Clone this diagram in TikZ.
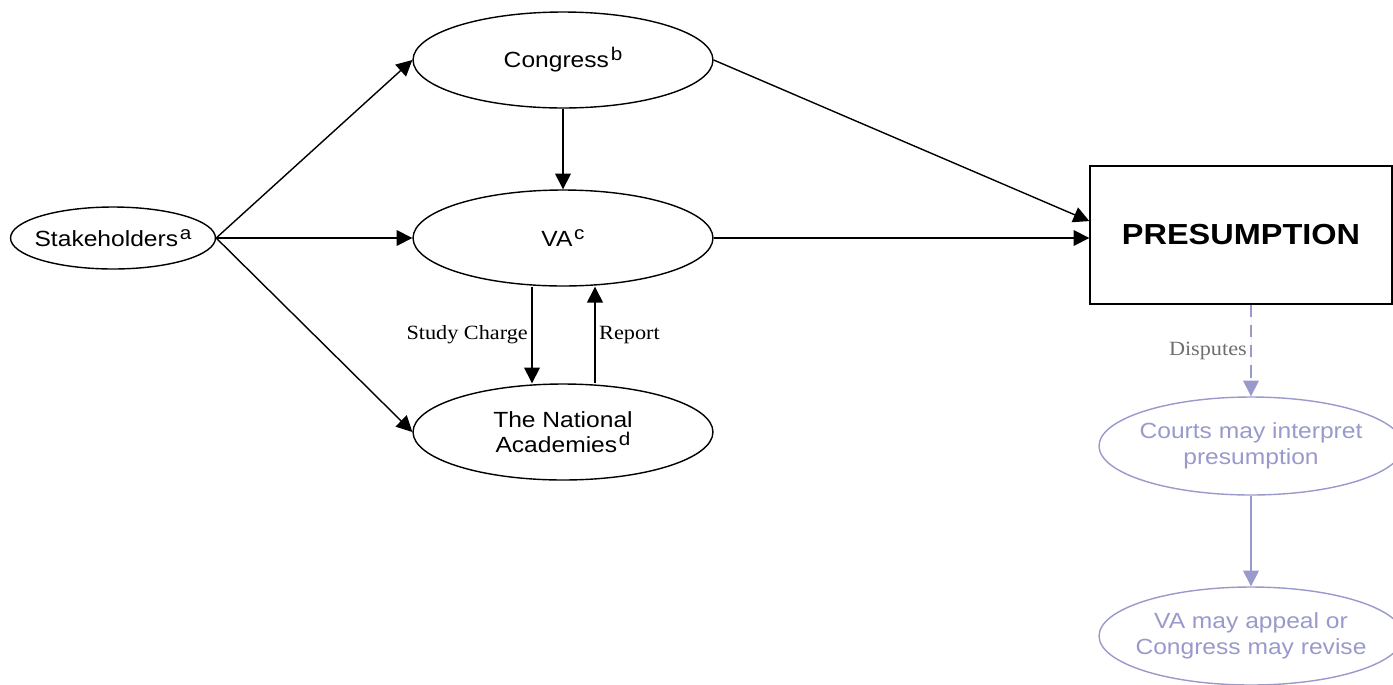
\documentclass[tikz,border=0pt]{standalone}
\usepackage{fontspec}
\setmainfont{Liberation Serif}[FakeStretch=1.1]
\setsansfont{Liberation Sans}[FakeStretch=1.12]
\usepackage{tikz}
\usetikzlibrary{arrows.meta,positioning,shapes.geometric,calc}
\definecolor{disputepurple}{RGB}{153,153,204}
\definecolor{labelgray}{RGB}{110,110,110}
\newcommand{\notemark}[1]{\kern1pt\raisebox{0.6ex}{\fontsize{10.5}{12}\selectfont #1}}

\begin{document}
\begin{tikzpicture}[
    x=0.02cm, y=-0.02cm,
    actor/.style={draw, ellipse, inner xsep=-1cm, inner ysep=-0.3cm, minimum width=6cm, minimum height=1.92cm, align=center, font=\sffamily\fontsize{12.5}{14.5}\selectfont, line width=0.8pt},
    outcome/.style={actor, draw=disputepurple, text=disputepurple, minimum width=6.08cm, minimum height=1.96cm},
    flow/.style={-{Triangle[length=9pt,width=9pt]}, line width=0.8pt},
    lbl/.style={font=\fontsize{11.5}{13}\selectfont, inner sep=2pt},
]
\useasboundingbox (0,0) rectangle (1393,684);

\node[actor, minimum width=4.1cm, minimum height=1.24cm] (stake) at (113,238) {Stakeholders\notemark{a}};
\node[actor] (cong) at (563,60) {Congress\notemark{b}};
\node[actor] (va) at (563,238) {VA\notemark{c}};
\node[actor] (nas) at (563,432) {The National\\Academies\notemark{d}};

\node[draw, line width=0.8pt, minimum width=6.04cm, minimum height=2.76cm, font=\sffamily\bfseries\fontsize{16.5}{20}\selectfont] (pres) at (1241,235) {PRESUMPTION};

\node[outcome] (courts) at (1251,446) {Courts may interpret\\presumption};
\node[outcome] (revise) at (1251,636) {VA may appeal or\\Congress may revise};

\draw[flow] (stake.east) -- (cong.west);
\draw[flow] (stake.east) -- (va.west);
\draw[flow] (stake.east) -- (nas.west);
\draw[flow] (cong.south) -- (va.north);
\draw[flow] (cong.east) -- ($(pres.north west)!0.4!(pres.south west)$);
\draw[flow] (va.east) -- (va.east -| pres.west);

\draw[flow] ([xshift=-0.62cm]va.south) -- node[lbl, left] {Study Charge} ([xshift=-0.62cm]nas.north);
\draw[flow] ([xshift=0.64cm]nas.north) -- node[lbl, right] {Report} ([xshift=0.64cm]va.south);

\draw[flow, draw=disputepurple, fill=disputepurple, dash pattern=on 7pt off 4.5pt] (pres.south -| courts.north) -- node[lbl, left, text=labelgray] {Disputes} (courts.north);
\draw[flow, draw=disputepurple, fill=disputepurple] (courts.south) -- (revise.north);
\end{tikzpicture}
\end{document}
